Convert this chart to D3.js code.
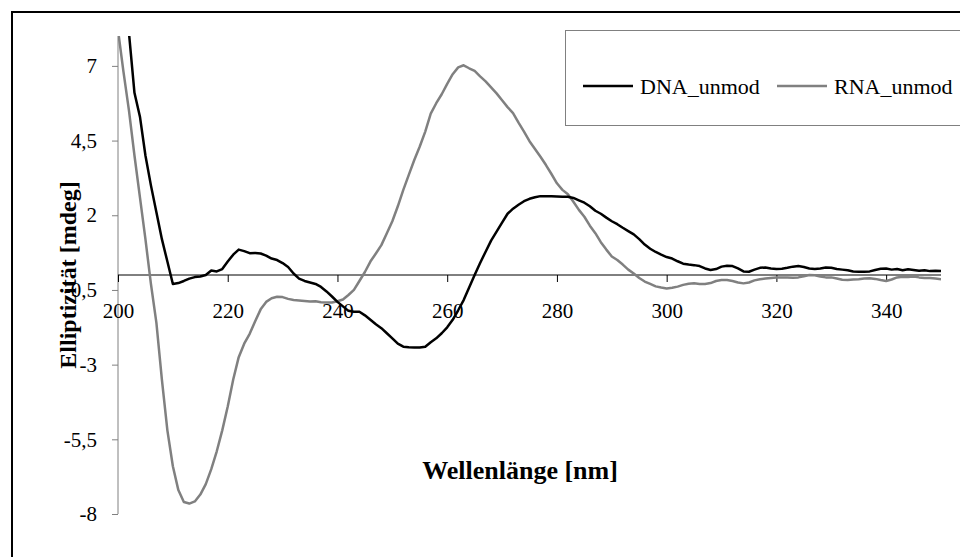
<!DOCTYPE html>
<html>
<head>
<meta charset="utf-8">
<script src="https://cdn.jsdelivr.net/npm/d3@7"></script>
<style>
  body { margin: 0; background: #fff; }
  svg, svg text { font-family: 'Liberation Serif', 'Times New Roman', serif; }
</style>
</head>
<body>
<script>
// wavelength grid (nm), one value per nm
const wavelengths = d3.range(200, 351);

const dnaUnmod = [
  12.0, 10.0, 8.1, 6.1, 5.3, 4.0, 3.0, 2.1, 1.2, 0.45,
  -0.3, -0.27, -0.2, -0.12, -0.07, -0.05, 0.0, 0.15, 0.12, 0.2,
  0.45, 0.68, 0.85, 0.8, 0.73, 0.74, 0.72, 0.65, 0.55, 0.5,
  0.4, 0.27, 0.05, -0.12, -0.2, -0.25, -0.3, -0.4, -0.55, -0.72,
  -0.9, -1.05, -1.2, -1.23, -1.23, -1.35, -1.5, -1.65, -1.78, -1.95,
  -2.12, -2.3, -2.4, -2.42, -2.43, -2.43, -2.4, -2.25, -2.12, -1.95,
  -1.75, -1.5, -1.18, -0.84, -0.42, 0.0, 0.4, 0.78, 1.15, 1.45,
  1.75, 2.05, 2.22, 2.35, 2.47, 2.55, 2.6, 2.64, 2.64, 2.64,
  2.63, 2.62, 2.62, 2.58, 2.5, 2.42, 2.3, 2.15, 2.05, 1.92,
  1.8, 1.7, 1.58, 1.47, 1.36, 1.2, 1.02, 0.88, 0.77, 0.68,
  0.6, 0.55, 0.46, 0.38, 0.35, 0.33, 0.3, 0.22, 0.17, 0.2,
  0.28, 0.31, 0.3, 0.22, 0.12, 0.11, 0.18, 0.24, 0.25, 0.22,
  0.2, 0.21, 0.24, 0.28, 0.3, 0.27, 0.22, 0.2, 0.22, 0.25,
  0.24, 0.2, 0.18, 0.16, 0.12, 0.11, 0.11, 0.12, 0.17, 0.21,
  0.22, 0.18, 0.2, 0.16, 0.19, 0.17, 0.14, 0.16, 0.13, 0.14,
  0.13
];

const rnaUnmod = [
  8.2, 6.8, 5.5, 4.0, 2.6, 1.2, -0.3, -1.6, -3.5, -5.2,
  -6.4, -7.2, -7.6, -7.65, -7.58, -7.35, -7.0, -6.5, -5.9, -5.2,
  -4.4, -3.5, -2.75, -2.3, -1.97, -1.55, -1.15, -0.9, -0.78, -0.73,
  -0.74, -0.8, -0.84, -0.85, -0.87, -0.89, -0.88, -0.91, -0.92, -0.92,
  -0.88, -0.82, -0.67, -0.5, -0.2, 0.1, 0.45, 0.72, 1.0, 1.4,
  1.8, 2.3, 2.85, 3.35, 3.85, 4.3, 4.8, 5.4, 5.75, 6.05,
  6.4, 6.72, 6.95, 7.02, 6.92, 6.83, 6.65, 6.48, 6.28, 6.08,
  5.85, 5.62, 5.42, 5.1, 4.8, 4.48, 4.22, 3.96, 3.68, 3.38,
  3.07, 2.85, 2.7, 2.45, 2.18, 1.95, 1.65, 1.4, 1.1, 0.85,
  0.62, 0.5, 0.35, 0.18, 0.05, -0.1, -0.22, -0.3, -0.38, -0.42,
  -0.45, -0.43, -0.39, -0.33, -0.29, -0.28, -0.3, -0.3, -0.27, -0.2,
  -0.17, -0.17, -0.2, -0.25, -0.28, -0.25, -0.18, -0.14, -0.12, -0.1,
  -0.08, -0.08, -0.08, -0.09, -0.08, -0.04, 0.0, -0.01, -0.05, -0.08,
  -0.08, -0.12, -0.16, -0.17, -0.15, -0.14, -0.12, -0.11, -0.13, -0.17,
  -0.2, -0.15, -0.08, -0.06, -0.07, -0.05, -0.08, -0.1, -0.1, -0.12,
  -0.14
];

const xTicks = [200, 220, 240, 260, 280, 300, 320, 340];
const yTicks = [7, 4.5, 2, -0.5, -3, -5.5, -8];

const series = [
  { name: 'DNA_unmod', values: dnaUnmod, color: '#000000' },
  { name: 'RNA_unmod', values: rnaUnmod, color: '#808080' },
];

const width = 960;
const height = 557;
const plot = { left: 118, right: 941, top: 36, bottom: 514 };
const serif = "'Liberation Serif', 'Times New Roman', serif";

const xScale = d3.scaleLinear()
  .domain([200, 350])
  .range([plot.left, plot.right]);

const yScale = d3.scaleLinear()
  .domain([-8, 8])
  .range([plot.bottom, plot.top]);

const formatComma = d => String(d).replace('.', ',');

const svg = d3.select('body')
  .append('svg')
  .attr('width', width)
  .attr('height', height);

// outer chart frame (right and bottom edges fall outside the picture)
svg.append('rect')
  .attr('x', 12)
  .attr('y', 12)
  .attr('width', 1000)
  .attr('height', 1000)
  .style('fill', 'none')
  .style('stroke', '#000')
  .style('stroke-width', 2);

svg.append('defs').append('clipPath')
  .attr('id', 'plot-clip')
  .append('rect')
  .attr('x', plot.left)
  .attr('y', plot.top)
  .attr('width', plot.right - plot.left)
  .attr('height', plot.bottom - plot.top);

// y axis (gray)
const yAxis = svg.append('g')
  .attr('transform', `translate(${plot.left},0)`)
  .call(d3.axisLeft(yScale).tickValues(yTicks).tickFormat(formatComma).tickSize(6).tickPadding(15));
yAxis.select('.domain').attr('d', `M0,${plot.top}V${plot.bottom}`).style('stroke', '#808080');
yAxis.selectAll('.tick line').style('stroke', '#808080');
yAxis.selectAll('text')
  .style('font-family', serif)
  .style('font-size', '21px')
  .style('fill', '#000');

// x axis crossing at 0
const xAxis = svg.append('g')
  .attr('transform', `translate(0,${yScale(0)})`)
  .call(d3.axisBottom(xScale).tickValues(xTicks).tickSize(7).tickPadding(21));
xAxis.select('.domain').attr('d', `M${plot.left},0H${plot.right}`).style('stroke', '#000');
xAxis.selectAll('text')
  .style('font-family', serif)
  .style('font-size', '21px')
  .style('fill', '#000');

const line = d3.line()
  .x((d, i) => xScale(wavelengths[i]))
  .y(d => yScale(d));

svg.append('g')
  .attr('clip-path', 'url(#plot-clip)')
  .selectAll('path')
  .data(series.slice().reverse())
  .join('path')
  .attr('d', d => line(d.values))
  .style('fill', 'none')
  .style('stroke', d => d.color)
  .style('stroke-width', 2.5)
  .style('stroke-linejoin', 'round');

// axis titles
svg.append('text')
  .attr('transform', `translate(76,${yScale(0)}) rotate(-90)`)
  .style('text-anchor', 'middle')
  .style('font-size', '24px')
  .style('font-weight', 'bold')
  .text('Elliptizität [mdeg]');

svg.append('text')
  .attr('x', 520)
  .attr('y', 479)
  .style('text-anchor', 'middle')
  .style('font-size', '26px')
  .style('font-weight', 'bold')
  .text('Wellenlänge [nm]');

// legend
const legend = svg.append('g');
legend.append('rect')
  .attr('x', 565.5)
  .attr('y', 30.5)
  .attr('width', 500)
  .attr('height', 95)
  .style('fill', '#fff')
  .style('stroke', '#808080');

const legendX = [583, 777];
const items = legend.selectAll('g.item')
  .data(series)
  .join('g')
  .attr('class', 'item')
  .attr('transform', (d, i) => `translate(${legendX[i]},86)`);
items.append('line')
  .attr('x1', 0)
  .attr('x2', 50)
  .style('stroke', d => d.color)
  .style('stroke-width', 2.5);
items.append('text')
  .attr('x', 57)
  .attr('dy', '0.35em')
  .style('font-family', serif)
  .style('font-size', '22px')
  .text(d => d.name);
</script>
</body>
</html>
